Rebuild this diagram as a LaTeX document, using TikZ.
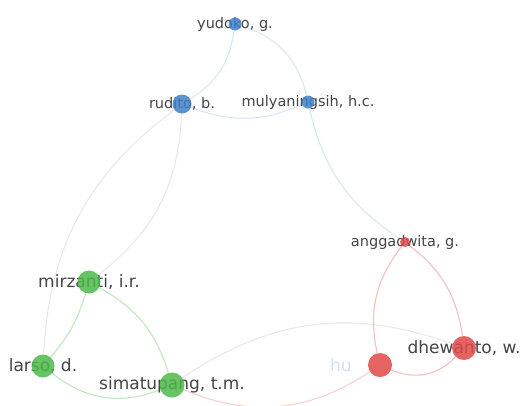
\documentclass[tikz,border=0pt]{standalone}
\usepackage{fontspec}
\setmainfont{DejaVu Sans}
\usepackage{xcolor}
\usetikzlibrary{positioning}

\definecolor{vblue}{HTML}{3F7FC4}
\definecolor{vgreen}{HTML}{4DB84A}
\definecolor{vred}{HTML}{E04848}
\definecolor{txtgray}{HTML}{444444}

\pgfdeclarelayer{edges}
\pgfdeclarelayer{labels}
\pgfsetlayers{edges,labels,main}

\begin{document}
\begin{tikzpicture}[
    x=1pt, y=-1pt,
    dot/.style={circle, inner sep=0pt, fill opacity=0.85, draw=none},
    lbl/.style={text=txtgray, inner sep=0pt, font=\fontsize{14.5}{14.5}\selectfont},
    biglbl/.style={lbl, font=\fontsize{17}{17}\selectfont},
    link/.style={line width=1.1pt, opacity=0.35},
    blue link/.style={link, draw=vblue!55},
    gray link/.style={link, draw=black!25},
    green link/.style={link, draw=vgreen},
    red link/.style={link, draw=vred}
]
\useasboundingbox (0,0) rectangle (529,405);

% authors
\node (yud) [dot, fill=vblue, minimum size=13pt] at (235,24) {};
\node (rud) [dot, fill=vblue, minimum size=19pt] at (182,104) {};
\node (mul) [dot, fill=vblue, minimum size=13pt] at (308,102) {};
\node (ang) [dot, fill=vred, minimum size=10pt] at (405,242) {};
\node (mir) [dot, fill=vgreen, minimum size=23pt] at (89,282) {};
\node (lar) [dot, fill=vgreen, minimum size=23pt] at (43,366) {};
\node (sim) [dot, fill=vgreen, minimum size=25pt] at (172,385) {};
\node (dhe) [dot, fill=vred, minimum size=24pt] at (464,348) {};
\node (hun) [dot, fill=vred, minimum size=24pt] at (380,365) {};

\begin{pgfonlayer}{labels}
\node [lbl] at (yud) {yudoko, g.};
\node [lbl] at (rud) {rudito, b.};
\node [lbl] at (mul) {mulyaningsih, h.c.};
\node [lbl] at (ang) {anggadwita, g.};
\node [biglbl] at (mir) {mirzanti, i.r.};
\node [biglbl] at (lar) {larso, d.};
\node [biglbl] at (sim) {simatupang, t.m.};
\node [biglbl] at (dhe) {dhewanto, w.};
\node [biglbl, text=vblue!25, left=16pt of hun] {hu};
\end{pgfonlayer}

% co-authorship links
\begin{pgfonlayer}{edges}
\draw [blue link] (yud) to[bend left=25] (rud);
\draw [blue link] (yud) to[bend left=30] (mul);
\draw [blue link] (rud) to[bend right=22] (mul);
\draw [blue link] (mul) to[bend right=22] (ang);
\draw [gray link] (rud) to[bend left=25] (mir);
\draw [gray link] (rud) to[bend right=25] (lar);
\draw [green link] (mir) to[bend left=12] (lar);
\draw [green link] (mir) to[bend left=22] (sim);
\draw [green link] (lar) to[bend right=30] (sim);
\draw [gray link] (sim) to[bend left=27] (dhe);
\draw [red link, opacity=0.25] (sim) to[bend right=28] (hun);
\draw [red link] (ang) to[bend left=22] (dhe);
\draw [red link] (ang) to[bend right=25] (hun);
\draw [red link] (hun) to[bend right=35] (dhe);
\end{pgfonlayer}
\end{tikzpicture}
\end{document}
